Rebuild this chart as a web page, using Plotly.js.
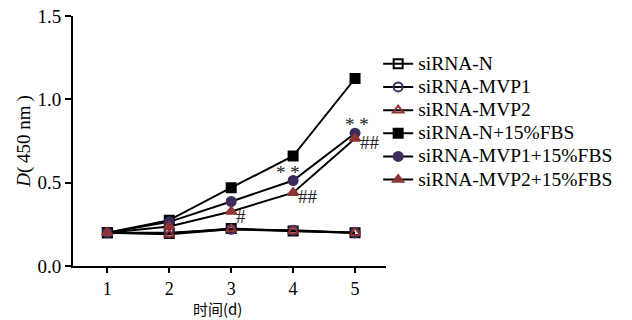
<!DOCTYPE html>
<html>
<head>
<meta charset="utf-8">
<script src="https://cdn.plot.ly/plotly-3.0.1.min.js"></script>
<style>html,body{margin:0;padding:0;background:#fff;}#chart{width:632px;height:320px;}</style>
</head>
<body>
<div id="chart"></div>
<script>
const days = [1, 2, 3, 4, 5];
const seriesNames = ["siRNA-N", "siRNA-MVP1", "siRNA-MVP2", "siRNA-N+15%FBS", "siRNA-MVP1+15%FBS", "siRNA-MVP2+15%FBS"];
const siRNA_N = [0.20, 0.195, 0.225, 0.21, 0.20];
const siRNA_MVP1 = [0.20, 0.20, 0.22, 0.215, 0.20];
const siRNA_MVP2 = [0.20, 0.19, 0.22, 0.21, 0.20];
const siRNA_N_FBS = [0.20, 0.275, 0.47, 0.66, 1.125];
const siRNA_N_FBS_err = [0, 0, 0, 0, 0.025];
const siRNA_MVP1_FBS = [0.20, 0.265, 0.387, 0.513, 0.797];
const siRNA_MVP2_FBS = [0.20, 0.237, 0.327, 0.44, 0.765];
const yTicks = [0, 0.5, 1.0, 1.5];
const yTickLabels = ["0.0", "0.5", "1.0", "1.5"];
const xTitle = "时间(d)";
const yTitle = "<i>D</i>(\u2009450 nm\u2009)";

const purple = "#3c2b5e";
const red = "#8f3434";
const serif = "Liberation Serif";

function tr(name, y, symbol, color, extra) {
  return Object.assign({
    x: days, y: y, name: '<span style="font-size:19.5px">' + name + '</span>',
    type: "scatter", mode: "lines+markers",
    line: {color: "#000", width: 2},
    marker: {symbol: symbol, size: 9, color: color, line: {color: color, width: 2}}
  }, extra || {});
}

const data = [
  tr(seriesNames[0], siRNA_N, "square-open", "#000"),
  tr(seriesNames[1], siRNA_MVP1, "circle-open", purple),
  tr(seriesNames[2], siRNA_MVP2, "triangle-up-open", red),
  tr(seriesNames[3], siRNA_N_FBS, "square", "#000", {error_y: {type: "data", array: siRNA_N_FBS_err, visible: true, color: "#000", thickness: 2, width: 4}}),
  tr(seriesNames[4], siRNA_MVP1_FBS, "circle", purple),
  tr(seriesNames[5], siRNA_MVP2_FBS, "triangle-up", red)
];

const annFont = {family: serif, size: 19, color: "#222"};
const annotations = [
  {x: days[3], y: siRNA_MVP1_FBS[3], text: "* *", showarrow: false, xshift: -5, yshift: 8, font: annFont},
  {x: days[4], y: siRNA_MVP1_FBS[4], text: "* *", showarrow: false, xshift: 2, yshift: 9, font: annFont},
  {x: days[2], y: siRNA_MVP2_FBS[2], text: "#", showarrow: false, xanchor: "left", xshift: 3, yshift: -5, font: annFont},
  {x: days[3], y: siRNA_MVP2_FBS[3], text: "##", showarrow: false, xanchor: "left", xshift: 3, yshift: -4, font: annFont},
  {x: days[4], y: siRNA_MVP2_FBS[4], text: "##", showarrow: false, xanchor: "left", xshift: 3, yshift: -4, font: annFont},
  {x: 0.463, y: 0, xref: "paper", yref: "paper", yanchor: "top", yshift: -31, borderpad: 0, showarrow: false, text: xTitle,
   font: {family: "Noto Sans CJK SC", size: 15, color: "#000"}}
];

const layout = {
  width: 632, height: 320,
  margin: {l: 73, r: 246, t: 16, b: 54},
  paper_bgcolor: "#fff", plot_bgcolor: "#fff",
  font: {family: serif, color: "#000"},
  showlegend: true,
  legend: {x: 0.975, y: 0.875, xanchor: "left", yanchor: "top", font: {family: serif, size: 15.5, color: "#000"}, itemwidth: 30, bgcolor: "rgba(0,0,0,0)", tracegroupgap: 0},
  xaxis: {
    range: [0.445, 5.5], tickvals: days, ticktext: days.map(String),
    showgrid: false, zeroline: false, showline: true, linecolor: "#000", linewidth: 2,
    ticks: "outside", ticklen: 5, tickwidth: 2, tickcolor: "#000",
    tickfont: {family: serif, size: 18, color: "#000"}
  },
  yaxis: {
    range: [0, 1.5], tickvals: yTicks, ticktext: yTickLabels,
    showgrid: false, zeroline: false, showline: true, linecolor: "#000", linewidth: 2,
    ticks: "outside", ticklen: 6, tickwidth: 2, tickcolor: "#000",
    tickfont: {family: serif, size: 19, color: "#000"},
    title: {text: yTitle, font: {family: serif, size: 19, color: "#000"}, standoff: 2}
  },
  annotations: annotations
};

Plotly.newPlot("chart", data, layout, {displayModeBar: false, staticPlot: true});
</script>
</body>
</html>
